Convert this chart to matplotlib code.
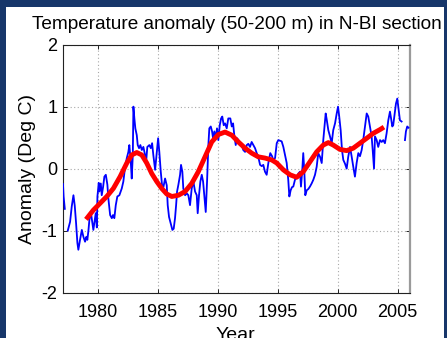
import numpy as np
import matplotlib
matplotlib.use('Agg')
import matplotlib.pyplot as plt
import matplotlib.patches as patches

plt.rcParams['font.family'] = ['Liberation Sans', 'DejaVu Sans']
plt.rcParams['axes.unicode_minus'] = False

# Blue line: anomaly series (NaN = gap)
years = [1977.10, 1977.15, 1977.25, np.nan,
         1977.50, 1977.69, 1977.83, 1977.97, 1978.08, 1978.19, 1978.30, 1978.38,
         1978.52, 1978.67, 1978.80, 1978.94, 1979.05, 1979.13, 1979.22, 1979.30,
         1979.42, 1979.53, 1979.63, 1979.73, 1979.83, 1979.92, 1979.97, 1980.08,
         1980.13, 1980.25, 1980.33, 1980.44, 1980.55, 1980.67, 1980.80, 1980.88,
         1981.03, 1981.17, 1981.27, 1981.38, 1981.50, 1981.63, 1981.80, 1982.00,
         1982.13, 1982.28, 1982.42, 1982.55, 1982.63, 1982.75, 1982.83, 1982.92,
         1982.97, 1983.05, 1983.13, 1983.25, 1983.33, 1983.44, 1983.55, 1983.67,
         1983.80, 1983.94, 1984.03, 1984.13, 1984.30, 1984.42, 1984.53, 1984.63,
         1984.78, 1984.92, 1985.03, 1985.13, 1985.25, 1985.36, 1985.47, 1985.61,
         1985.75, 1985.83, 1985.94, 1986.11, 1986.22, 1986.33, 1986.44, 1986.53,
         1986.61, 1986.72, 1986.86, 1986.94, 1987.05, 1987.13, 1987.28, 1987.42,
         1987.55, 1987.69, 1987.83, 1987.97, 1988.11, 1988.25, 1988.33, 1988.44,
         1988.55, 1988.67, 1988.78, 1988.88, 1989.00, 1989.11, 1989.22, 1989.30,
         1989.42, 1989.53, 1989.61, 1989.72, 1989.83, 1989.94, 1990.05, 1990.17,
         1990.28, 1990.38, 1990.50, 1990.61, 1990.75, 1990.88, 1991.05, 1991.17,
         1991.28, 1991.38, 1991.50, 1991.61, 1991.72, 1991.86, 1992.00, 1992.13,
         1992.28, 1992.42, 1992.55, 1992.69, 1992.83, 1992.97, 1993.11, 1993.25,
         1993.38, 1993.53, 1993.67, 1993.80, 1993.94, 1994.08, 1994.22, 1994.38,
         1994.53, 1994.63, 1994.78, 1994.92, 1995.05, 1995.33, 1995.47, 1995.61,
         1995.75, 1995.88, 1995.97, 1996.08, 1996.19, 1996.30, 1996.44, 1996.58,
         1996.72, 1996.86, 1996.94, 1997.05, 1997.13, 1997.22, 1997.30, 1997.42,
         1997.55, 1997.69, 1997.83, 1997.97, 1998.11, 1998.25, 1998.38, 1998.53,
         1998.67, 1998.80, 1998.92, 1999.00, 1999.08, 1999.22, 1999.36, 1999.50,
         1999.63, 1999.78, 1999.92, 2000.03, 2000.13, 2000.25, 2000.36, 2000.47,
         2000.61, 2000.75, 2000.88, 2001.03, 2001.17, 2001.30, 2001.44, 2001.58,
         2001.72, 2001.86, 2002.00, 2002.13, 2002.28, 2002.42, 2002.55, 2002.69,
         2002.83, 2002.92, 2003.03, 2003.11, 2003.25, 2003.38, 2003.53, 2003.67,
         2003.80, 2003.94, 2004.08, 2004.22, 2004.36, 2004.46, 2004.55, 2004.63,
         2004.72, 2004.86, 2004.97, 2005.08, 2005.19, 2005.33, np.nan,
         2005.61, 2005.69, 2005.80, 2005.90]
anomaly = [-0.25, -0.45, -0.65, np.nan,
           -1.00, -0.86, -0.61, -0.43, -0.60, -0.88, -1.20, -1.31,
           -1.15, -0.99, -1.10, -1.18, -1.10, -1.15, -1.00, -0.83,
           -0.70, -0.85, -0.99, -0.85, -0.72, -0.95, -0.45, -0.23,
           -0.37, -0.24, -0.43, -0.30, -0.13, -0.10, -0.26, -0.48,
           -0.75, -0.80, -0.75, -0.80, -0.59, -0.45, -0.43, -0.32,
           -0.21, 0.03, 0.17, 0.27, 0.38, 0.11, -0.16, 0.22,
           1.00, 0.81, 0.65, 0.54, 0.38, 0.33, 0.38, 0.30,
           0.35, 0.22, 0.11, 0.35, 0.38, 0.33, 0.41, 0.22,
           -0.02, 0.27, 0.49, 0.27, -0.05, -0.27, -0.30, -0.16,
           -0.27, -0.59, -0.78, -0.91, -0.99, -0.97, -0.80, -0.59,
           -0.37, -0.26, -0.10, 0.06, -0.05, -0.32, -0.43, -0.40,
           -0.43, -0.59, -0.32, -0.21, -0.37, -0.43, -0.72, -0.43,
           -0.21, -0.10, -0.21, -0.43, -0.70, -0.21, 0.38, 0.65,
           0.68, 0.60, 0.49, 0.60, 0.49, 0.65, 0.46, 0.70,
           0.81, 0.84, 0.70, 0.73, 0.65, 0.81, 0.81, 0.68,
           0.73, 0.54, 0.38, 0.49, 0.46, 0.41, 0.38, 0.30,
           0.27, 0.38, 0.40, 0.35, 0.43, 0.38, 0.33, 0.25,
           0.19, 0.06, 0.04, 0.06, -0.05, -0.10, 0.09, 0.25,
           0.20, 0.14, 0.17, 0.41, 0.46, 0.44, 0.35, 0.22,
           0.09, -0.18, -0.45, -0.35, -0.30, -0.29, -0.18, -0.15,
           -0.08, -0.05, -0.29, -0.02, 0.25, -0.05, -0.43, -0.35,
           -0.33, -0.29, -0.24, -0.18, -0.10, 0.03, 0.25, 0.19,
           0.09, 0.46, 0.73, 0.89, 0.80, 0.62, 0.52, 0.41,
           0.62, 0.73, 0.89, 1.00, 0.84, 0.62, 0.30, 0.14,
           0.08, 0.00, 0.19, 0.35, 0.19, 0.03, -0.13, 0.09,
           0.25, 0.20, 0.30, 0.46, 0.68, 0.89, 0.84, 0.68,
           0.52, 0.30, 0.00, 0.52, 0.46, 0.35, 0.46, 0.43,
           0.46, 0.41, 0.57, 0.78, 0.92, 0.80, 0.68, 0.70,
           0.84, 1.05, 1.13, 0.95, 0.78, 0.76, np.nan,
           0.46, 0.60, 0.68, 0.66]

# Red line: smoothed anomaly
smooth_years = [1979.02, 1979.63, 1980.19, 1980.75, 1981.30, 1981.86, 1982.42, 1982.83,
                1983.25, 1983.67, 1984.08, 1984.50, 1984.92, 1985.33, 1985.75, 1986.17,
                1986.72, 1987.28, 1987.83, 1988.38, 1988.94, 1989.50, 1990.05, 1990.61,
                1991.17, 1991.72, 1992.28, 1992.83, 1993.38, 1993.94, 1994.50, 1994.92,
                1995.47, 1996.03, 1996.58, 1997.13, 1997.69, 1998.25, 1998.80, 1999.22,
                1999.63, 2000.19, 2000.75, 2001.30, 2001.86, 2002.42, 2002.97, 2003.53,
                2003.86]
smooth_anomaly = [-0.82, -0.67, -0.56, -0.45, -0.32, -0.13, 0.09, 0.22,
                  0.26, 0.22, 0.09, -0.08, -0.21, -0.32, -0.41, -0.45,
                  -0.43, -0.37, -0.24, -0.05, 0.19, 0.43, 0.55, 0.59,
                  0.54, 0.43, 0.33, 0.25, 0.19, 0.17, 0.14, 0.09,
                  -0.02, -0.10, -0.14, -0.05, 0.11, 0.27, 0.38, 0.42,
                  0.38, 0.31, 0.29, 0.33, 0.41, 0.49, 0.57, 0.63,
                  0.67]

x_ticks = [1980, 1985, 1990, 1995, 2000, 2005]
y_ticks = [-2, -1, 0, 1, 2]

W, H = 447, 338
fig = plt.figure(figsize=(W / 100, H / 100), dpi=100, facecolor='white')

# dark frame around the white area
navy = '#17366a'
fig.patches.append(patches.Rectangle((0, 0), 6 / W, 1, transform=fig.transFigure,
                                     facecolor=navy, edgecolor='none', zorder=0))
fig.patches.append(patches.Rectangle((0, 1 - 7 / H), 1, 7 / H, transform=fig.transFigure,
                                     facecolor=navy, edgecolor='none', zorder=0))
fig.patches.append(patches.Rectangle((1 - 3 / W, 0), 3 / W, 1, transform=fig.transFigure,
                                     facecolor=navy, edgecolor='none', zorder=0))

ax = fig.add_axes([63 / W, 1 - 292.5 / H, (410 - 63) / W, (292.5 - 44.7) / H])
ax.plot(years, anomaly, color='#0000ff', lw=1.3, zorder=3)
ax.plot(smooth_years, smooth_anomaly, color='#ff0000', lw=3.5, zorder=4,
        solid_capstyle='butt')

ax.set_xlim(1977.1, 2006.03)
ax.set_ylim(-2, 2)
ax.set_xticks(x_ticks)
ax.set_yticks(y_ticks)
ax.tick_params(direction='in', length=3, width=0.6, labelsize=13,
               top=True, right=True)
ax.tick_params(axis='x', pad=8)
ax.tick_params(axis='y', pad=4)
ax.grid(True, color='#a8a8a8', linestyle=(0, (1, 2.2)), lw=0.8)
for side in ['left', 'top', 'bottom']:
    ax.spines[side].set_linewidth(0.8)
    ax.spines[side].set_color('#222222')
ax.spines['right'].set_linewidth(1.6)
ax.spines['right'].set_color('#9a9a9a')

ax.set_title('Temperature anomaly (50-200 m) in N-BI section', fontsize=13.7, pad=11.5)
ax.set_ylabel('Anomaly (Deg C)', fontsize=14, labelpad=4)
fig.text(235 / W, -2.0 / H, 'Year', fontsize=14, ha='center', va='baseline')

fig.savefig('out.png', dpi=100, facecolor='white')
